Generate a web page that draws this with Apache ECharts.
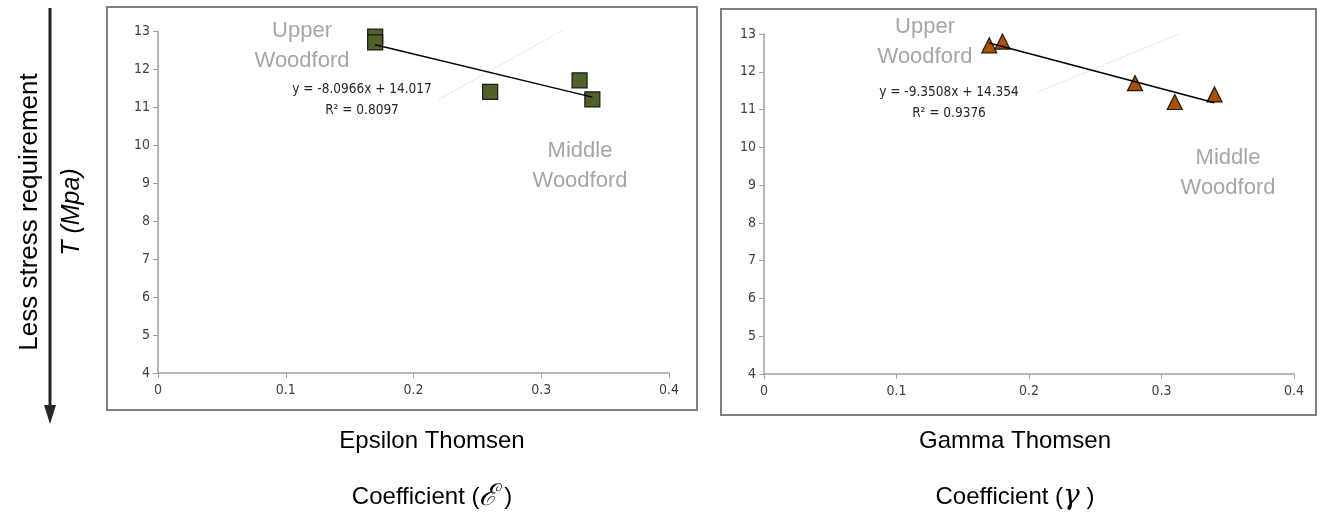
<!DOCTYPE html>
<html><head><meta charset="utf-8">
<script src="https://cdn.jsdelivr.net/npm/echarts@6/dist/echarts.min.js"></script>
<style>html,body{margin:0;padding:0;background:#fff}#c{width:1320px;height:515px}</style>
</head><body><div id="c"></div>
<script>
const xTicks = [0, 0.1, 0.2, 0.3, 0.4];
const yTicks = [4, 5, 6, 7, 8, 9, 10, 11, 12, 13];
const epsilonPoints = [[0.17, 12.85], [0.17, 12.7], [0.26, 11.4], [0.33, 11.7], [0.34, 11.2]];
const epsilonTrend = [[0.17, 12.64], [0.34, 11.26]];
const epsilonLeader = [[0.22, 11.2], [0.32, 13.08]];
const gammaPoints = [[0.17, 12.7], [0.18, 12.8], [0.28, 11.7], [0.31, 11.2], [0.34, 11.4]];
const gammaTrend = [[0.17, 12.76], [0.34, 11.18]];
const gammaLeader = [[0.207, 11.47], [0.3155, 13.03]];

const chart = echarts.init(document.getElementById('c'), null, {renderer: 'canvas'});
const tickFont = {color: '#404040', fontSize: 14, fontFamily: 'DejaVu Sans Condensed'};
function xAx(g) {
  return {gridIndex: g, type: 'value', min: xTicks[0], max: xTicks[xTicks.length - 1], interval: 0.1,
    axisLine: {show: true, lineStyle: {color: '#a0a0a0', width: 1.5}},
    axisTick: {show: true, length: 5, lineStyle: {color: '#a0a0a0'}},
    axisLabel: Object.assign({margin: 10}, tickFont), splitLine: {show: false}};
}
function yAx(g) {
  return {gridIndex: g, type: 'value', min: yTicks[0], max: yTicks[yTicks.length - 1], interval: 1,
    axisLine: {show: true, lineStyle: {color: '#a0a0a0', width: 1.5}},
    axisTick: {show: true, length: 5, lineStyle: {color: '#a0a0a0'}},
    axisLabel: Object.assign({margin: 8}, tickFont), splitLine: {show: false}};
}
const grayLbl = {fill: '#a6a6a6', fontSize: 22, fontFamily: 'Liberation Sans', textAlign: 'center', lineHeight: 30};
const eqLbl = {fill: '#262626', fontSize: 13.5, fontFamily: 'DejaVu Sans Condensed', textAlign: 'center', lineHeight: 21};
const titleLbl = {fill: '#000', fontSize: 24, fontFamily: 'Liberation Sans', textAlign: 'center', textVerticalAlign: 'middle'};

chart.setOption({
  animation: false,
  grid: [
    {left: 158, top: 31, width: 511, height: 342},
    {left: 764, top: 34, width: 530, height: 340}
  ],
  xAxis: [xAx(0), xAx(1)],
  yAxis: [yAx(0), yAx(1)],
  series: [
    {type: 'line', xAxisIndex: 0, yAxisIndex: 0, data: epsilonLeader, showSymbol: false, silent: true,
      lineStyle: {color: '#d0d0d0', width: 1, type: 'dotted'}},
    {type: 'line', xAxisIndex: 0, yAxisIndex: 0, data: epsilonTrend, showSymbol: false,
      lineStyle: {color: '#000', width: 1.5}},
    {type: 'scatter', xAxisIndex: 0, yAxisIndex: 0, data: epsilonPoints, symbol: 'rect', symbolSize: 15,
      itemStyle: {color: '#4f6228', borderColor: '#1a1a1a', borderWidth: 1.2, opacity: 1}},
    {type: 'line', xAxisIndex: 1, yAxisIndex: 1, data: gammaLeader, showSymbol: false, silent: true,
      lineStyle: {color: '#d0d0d0', width: 1, type: 'dotted'}},
    {type: 'line', xAxisIndex: 1, yAxisIndex: 1, data: gammaTrend, showSymbol: false,
      lineStyle: {color: '#000', width: 1.5}},
    {type: 'scatter', xAxisIndex: 1, yAxisIndex: 1, data: gammaPoints, symbol: 'triangle', symbolSize: 15,
      itemStyle: {color: '#a84f00', borderColor: '#1a1a1a', borderWidth: 1.2, opacity: 1}}
  ],
  graphic: [
    {type: 'rect', shape: {x: 107, y: 7, width: 590, height: 403}, style: {fill: 'none', stroke: '#7f7f7f', lineWidth: 2}, z: -1},
    {type: 'rect', shape: {x: 721, y: 9, width: 595, height: 406}, style: {fill: 'none', stroke: '#7f7f7f', lineWidth: 2}, z: -1},
    {type: 'text', x: 302, y: 16, style: Object.assign({text: 'Upper\nWoodford'}, grayLbl)},
    {type: 'text', x: 580, y: 136, style: Object.assign({text: 'Middle\nWoodford'}, grayLbl)},
    {type: 'text', x: 362, y: 79, style: Object.assign({text: 'y = -8.0966x + 14.017\nR² = 0.8097'}, eqLbl)},
    {type: 'text', x: 925, y: 12, style: Object.assign({text: 'Upper\nWoodford'}, grayLbl)},
    {type: 'text', x: 1228, y: 143, style: Object.assign({text: 'Middle\nWoodford'}, grayLbl)},
    {type: 'text', x: 949, y: 82, style: Object.assign({text: 'y = -9.3508x + 14.354\nR² = 0.9376'}, eqLbl)},
    {type: 'text', x: 432, y: 441, style: Object.assign({}, titleLbl, {text: 'Epsilon Thomsen'})},
    {type: 'text', x: 432, y: 497, style: Object.assign({}, titleLbl, {
      text: 'Coefficient ({e|ℰ} )', rich: {e: {fontSize: 30, fontFamily: 'DejaVu Serif', fill: '#000', fontStyle: 'italic'}}})},
    {type: 'text', x: 1015, y: 441, style: Object.assign({}, titleLbl, {text: 'Gamma Thomsen'})},
    {type: 'text', x: 1015, y: 497, style: Object.assign({}, titleLbl, {
      text: 'Coefficient ({g|γ} )', rich: {g: {fontStyle: 'italic', fontSize: 28, fontFamily: 'DejaVu Serif', fill: '#000'}}})},
    {type: 'text', x: 30, y: 212, rotation: Math.PI / 2, style: Object.assign({}, titleLbl, {text: 'Less stress requirement', fontSize: 26})},
    {type: 'text', x: 72, y: 212, rotation: Math.PI / 2, style: Object.assign({}, titleLbl, {text: 'T (Mpa)', fontStyle: 'italic', fontSize: 25})},
    {type: 'line', shape: {x1: 50, y1: 8, x2: 50, y2: 408}, style: {stroke: '#262626', lineWidth: 3}},
    {type: 'polygon', shape: {points: [[44, 405], [56, 405], [50, 424]]}, style: {fill: '#262626'}}
  ]
});
</script></body></html>
